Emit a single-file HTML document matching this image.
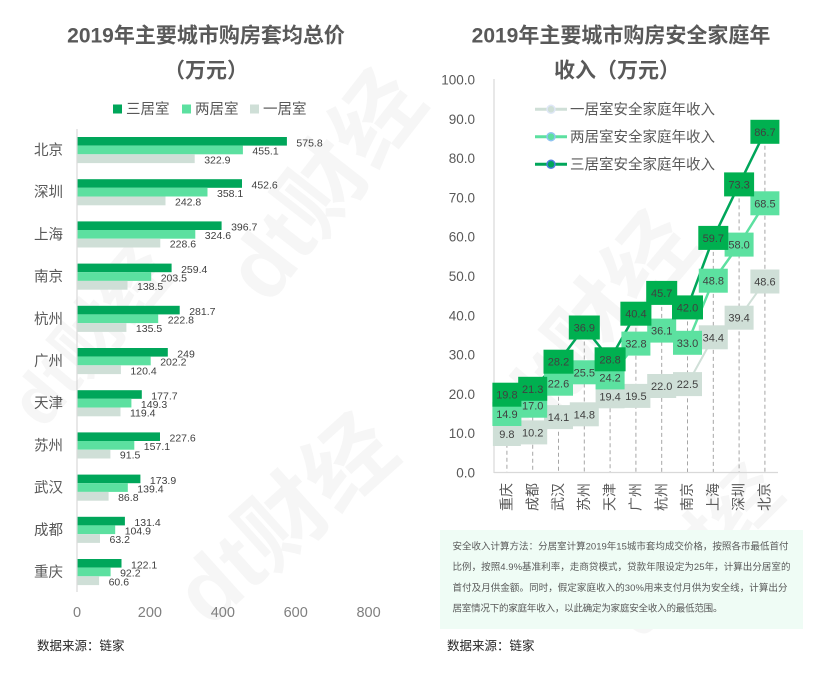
<!DOCTYPE html>
<html>
<head>
<meta charset="utf-8">
<style>
html,body{margin:0;padding:0;background:#fff;width:837px;height:679px;overflow:hidden;}
svg{display:block;font-family:"Liberation Sans","Noto Sans CJK SC",sans-serif;overflow:hidden;}
</style>
</head>
<body>
<svg width="837" height="679" viewBox="0 0 837 679" xmlns="http://www.w3.org/2000/svg">
<rect x="0" y="0" width="837" height="679" fill="#fff"/>

<!-- watermarks -->
<g fill="#000" fill-opacity="0.035" font-weight="bold">
  <text transform="translate(330,190) rotate(-52)" font-size="88" text-anchor="middle" dominant-baseline="middle">dt财经</text>
  <text transform="translate(290,525) rotate(-42)" font-size="88" text-anchor="middle" dominant-baseline="middle">dt财经</text>
  <text transform="translate(95,340) rotate(-50)" font-size="70" text-anchor="middle" dominant-baseline="middle">dt财经</text>
  <text transform="translate(600,330) rotate(-50)" font-size="88" text-anchor="middle" dominant-baseline="middle">dt财经</text>
  <text transform="translate(700,555) rotate(-45)" font-size="70" text-anchor="middle" dominant-baseline="middle">dt财经</text>
</g>

<!-- ============ LEFT CHART ============ -->
<g font-weight="bold" font-size="21" fill="#595959" text-anchor="middle">
  <text x="206" y="42.5">2019年主要城市购房套均总价</text>
  <text x="206" y="77.5">（万元）</text>
</g>

<rect x="113" y="104.5" width="9" height="9" fill="#00a65a"/>
<text x="126" y="114" font-size="14.5" fill="#595959">三居室</text>
<rect x="182" y="104.5" width="9" height="9" fill="#5ce0a0"/>
<text x="195" y="114" font-size="14.5" fill="#595959">两居室</text>
<rect x="250" y="104.5" width="9" height="9" fill="#cfdfd7"/>
<text x="263" y="114" font-size="14.5" fill="#595959">一居室</text>

<g>
  <rect x="77" y="137" width="209.9" height="8.6" fill="#00a65a"/>
  <rect x="77" y="145.6" width="165.9" height="8.7" fill="#5ce0a0"/>
  <rect x="77" y="154.3" width="117.7" height="8.8" fill="#cfdfd7"/>
  <rect x="77" y="179.2" width="165.0" height="8.6" fill="#00a65a"/>
  <rect x="77" y="187.8" width="130.5" height="8.7" fill="#5ce0a0"/>
  <rect x="77" y="196.5" width="88.5" height="8.8" fill="#cfdfd7"/>
  <rect x="77" y="221.4" width="144.6" height="8.6" fill="#00a65a"/>
  <rect x="77" y="230" width="118.3" height="8.7" fill="#5ce0a0"/>
  <rect x="77" y="238.7" width="83.3" height="8.8" fill="#cfdfd7"/>
  <rect x="77" y="263.6" width="94.6" height="8.6" fill="#00a65a"/>
  <rect x="77" y="272.2" width="74.2" height="8.7" fill="#5ce0a0"/>
  <rect x="77" y="280.9" width="50.5" height="8.8" fill="#cfdfd7"/>
  <rect x="77" y="305.8" width="102.7" height="8.6" fill="#00a65a"/>
  <rect x="77" y="314.4" width="81.2" height="8.7" fill="#5ce0a0"/>
  <rect x="77" y="323.1" width="49.4" height="8.8" fill="#cfdfd7"/>
  <rect x="77" y="348" width="90.8" height="8.6" fill="#00a65a"/>
  <rect x="77" y="356.6" width="73.7" height="8.7" fill="#5ce0a0"/>
  <rect x="77" y="365.3" width="43.9" height="8.8" fill="#cfdfd7"/>
  <rect x="77" y="390.2" width="64.8" height="8.6" fill="#00a65a"/>
  <rect x="77" y="398.8" width="54.4" height="8.7" fill="#5ce0a0"/>
  <rect x="77" y="407.5" width="43.5" height="8.8" fill="#cfdfd7"/>
  <rect x="77" y="432.4" width="83.0" height="8.6" fill="#00a65a"/>
  <rect x="77" y="441" width="57.3" height="8.7" fill="#5ce0a0"/>
  <rect x="77" y="449.7" width="33.4" height="8.8" fill="#cfdfd7"/>
  <rect x="77" y="474.6" width="63.4" height="8.6" fill="#00a65a"/>
  <rect x="77" y="483.2" width="50.8" height="8.7" fill="#5ce0a0"/>
  <rect x="77" y="491.9" width="31.6" height="8.8" fill="#cfdfd7"/>
  <rect x="77" y="516.8" width="47.9" height="8.6" fill="#00a65a"/>
  <rect x="77" y="525.4" width="38.2" height="8.7" fill="#5ce0a0"/>
  <rect x="77" y="534.1" width="23.0" height="8.8" fill="#cfdfd7"/>
  <rect x="77" y="559" width="44.5" height="8.6" fill="#00a65a"/>
  <rect x="77" y="567.6" width="33.6" height="8.7" fill="#5ce0a0"/>
  <rect x="77" y="576.3" width="22.1" height="8.8" fill="#cfdfd7"/>
</g>

<line x1="77" y1="129" x2="77" y2="592" stroke="#d9d9d9" stroke-width="1.2"/>

<g font-size="10.5" fill="#404040">
  <text x="296.4" y="146.3">575.8</text><text x="252.4" y="154.7">455.1</text><text x="204.2" y="163.3">322.9</text>
  <text x="251.5" y="188.5">452.6</text><text x="217" y="196.9">358.1</text><text x="175" y="205.5">242.8</text>
  <text x="231.1" y="230.7">396.7</text><text x="204.8" y="239.1">324.6</text><text x="169.8" y="247.7">228.6</text>
  <text x="181.1" y="272.9">259.4</text><text x="160.7" y="281.3">203.5</text><text x="137" y="289.9">138.5</text>
  <text x="189.2" y="315.1">281.7</text><text x="167.7" y="323.5">222.8</text><text x="135.9" y="332.1">135.5</text>
  <text x="177.3" y="357.3">249</text><text x="160.2" y="365.7">202.2</text><text x="130.4" y="374.3">120.4</text>
  <text x="151.3" y="399.5">177.7</text><text x="140.9" y="407.9">149.3</text><text x="130" y="416.5">119.4</text>
  <text x="169.5" y="441.7">227.6</text><text x="143.8" y="450.1">157.1</text><text x="119.9" y="458.7">91.5</text>
  <text x="149.9" y="483.9">173.9</text><text x="137.3" y="492.3">139.4</text><text x="118.1" y="500.9">86.8</text>
  <text x="134.4" y="526.1">131.4</text><text x="124.7" y="534.5">104.9</text><text x="109.5" y="543.1">63.2</text>
  <text x="131" y="568.3">122.1</text><text x="120.1" y="576.7">92.2</text><text x="108.6" y="585.3">60.6</text>
</g>

<g font-size="14.5" fill="#595959" text-anchor="end">
  <text x="63" y="155">北京</text>
  <text x="63" y="197.2">深圳</text>
  <text x="63" y="239.4">上海</text>
  <text x="63" y="281.6">南京</text>
  <text x="63" y="323.8">杭州</text>
  <text x="63" y="366">广州</text>
  <text x="63" y="408.2">天津</text>
  <text x="63" y="450.4">苏州</text>
  <text x="63" y="492.6">武汉</text>
  <text x="63" y="534.8">成都</text>
  <text x="63" y="577">重庆</text>
</g>

<g font-size="14.5" fill="#7f7f7f" text-anchor="middle">
  <text x="77" y="617">0</text>
  <text x="149.9" y="617">200</text>
  <text x="222.8" y="617">400</text>
  <text x="295.7" y="617">600</text>
  <text x="368.6" y="617">800</text>
</g>

<text x="37" y="650" font-size="12.5" fill="#262626">数据来源：链家</text>

<!-- ============ RIGHT CHART ============ -->
<g font-weight="bold" font-size="21" fill="#595959" text-anchor="middle">
  <text x="621" y="42.5">2019年主要城市购房安全家庭年</text>
  <text x="617" y="77.5">收入（万元）</text>
</g>

<g font-size="13.5" fill="#595959" text-anchor="end">
  <text x="475" y="477.5">0.0</text>
  <text x="475" y="438.2">10.0</text>
  <text x="475" y="398.9">20.0</text>
  <text x="475" y="359.6">30.0</text>
  <text x="475" y="320.3">40.0</text>
  <text x="475" y="281">50.0</text>
  <text x="475" y="241.7">60.0</text>
  <text x="475" y="202.4">70.0</text>
  <text x="475" y="163.1">80.0</text>
  <text x="475" y="123.8">90.0</text>
  <text x="475" y="84.5">100.0</text>
</g>

<g stroke="#a6a6a6" stroke-width="1" stroke-dasharray="4,3">
  <line x1="506.9" y1="394.7" x2="506.9" y2="472.5"/>
  <line x1="532.7" y1="388.8" x2="532.7" y2="472.5"/>
  <line x1="558.5" y1="361.7" x2="558.5" y2="472.5"/>
  <line x1="584.3" y1="327.5" x2="584.3" y2="472.5"/>
  <line x1="610.1" y1="359.3" x2="610.1" y2="472.5"/>
  <line x1="635.9" y1="313.7" x2="635.9" y2="472.5"/>
  <line x1="661.7" y1="292.9" x2="661.7" y2="472.5"/>
  <line x1="687.5" y1="307.4" x2="687.5" y2="472.5"/>
  <line x1="713.3" y1="237.9" x2="713.3" y2="472.5"/>
  <line x1="739.1" y1="184.4" x2="739.1" y2="472.5"/>
  <line x1="764.9" y1="131.8" x2="764.9" y2="472.5"/>
</g>

<line x1="494" y1="79" x2="494" y2="473" stroke="#d9d9d9" stroke-width="1.2"/>
<line x1="494" y1="472.5" x2="778" y2="472.5" stroke="#d9d9d9" stroke-width="1.2"/>

<g font-size="14" fill="#595959" text-anchor="end">
  <text transform="translate(511.5,483) rotate(-90)">重庆</text>
  <text transform="translate(537.3,483) rotate(-90)">成都</text>
  <text transform="translate(563.1,483) rotate(-90)">武汉</text>
  <text transform="translate(588.9,483) rotate(-90)">苏州</text>
  <text transform="translate(614.7,483) rotate(-90)">天津</text>
  <text transform="translate(640.5,483) rotate(-90)">广州</text>
  <text transform="translate(666.3,483) rotate(-90)">杭州</text>
  <text transform="translate(692.1,483) rotate(-90)">南京</text>
  <text transform="translate(717.9,483) rotate(-90)">上海</text>
  <text transform="translate(743.7,483) rotate(-90)">深圳</text>
  <text transform="translate(769.5,483) rotate(-90)">北京</text>
</g>

<polyline fill="none" stroke="#cfdfd7" stroke-width="2"
  points="506.9,434.0 532.7,432.4 558.5,417.1 584.3,414.3 610.1,396.3 635.9,395.9 661.7,386.0 687.5,384.1 713.3,337.3 739.1,317.7 764.9,281.5"/>
<polyline fill="none" stroke="#5ce0a0" stroke-width="2.5"
  points="506.9,414.0 532.7,405.7 558.5,383.7 584.3,372.3 610.1,377.4 635.9,343.6 661.7,330.6 687.5,342.8 713.3,280.7 739.1,244.6 764.9,203.3"/>
<polyline fill="none" stroke="#00a65a" stroke-width="2.5"
  points="506.9,394.7 532.7,388.8 558.5,361.7 584.3,327.5 610.1,359.3 635.9,313.7 661.7,292.9 687.5,307.4 713.3,237.9 739.1,184.4 764.9,131.8"/>

<line x1="535" y1="109.3" x2="567" y2="109.3" stroke="#cfdfd7" stroke-width="3"/>
<circle cx="551" cy="109.3" r="4" fill="#cfdfd7" stroke="#dfe7f7" stroke-width="1.5"/>
<text x="570" y="114.5" font-size="14.5" fill="#595959">一居室安全家庭年收入</text>
<line x1="535" y1="136.7" x2="567" y2="136.7" stroke="#5ce0a0" stroke-width="3"/>
<circle cx="551" cy="136.7" r="4" fill="#5ce0a0" stroke="#8fc4f0" stroke-width="1.5"/>
<text x="570" y="141.9" font-size="14.5" fill="#595959">两居室安全家庭年收入</text>
<line x1="535" y1="164.3" x2="567" y2="164.3" stroke="#00a65a" stroke-width="3"/>
<circle cx="551" cy="164.3" r="4" fill="#00a65a" stroke="#4d7fe0" stroke-width="1.5"/>
<text x="570" y="169.5" font-size="14.5" fill="#595959">三居室安全家庭年收入</text>

<g fill="#cfdfd7">
  <rect x="492.9" y="422" width="28" height="24"/>
  <rect x="518.2" y="420.4" width="29" height="24"/>
  <rect x="544" y="405.1" width="29" height="24"/>
  <rect x="569.8" y="402.3" width="29" height="24"/>
  <rect x="595.6" y="384.3" width="29" height="24"/>
  <rect x="621.4" y="383.9" width="29" height="24"/>
  <rect x="647.2" y="374" width="29" height="24"/>
  <rect x="673" y="372.1" width="29" height="24"/>
  <rect x="698.8" y="325.3" width="29" height="24"/>
  <rect x="724.6" y="305.7" width="29" height="24"/>
  <rect x="750.4" y="269.5" width="29" height="24"/>
</g>
<g font-size="11" fill="#404040" text-anchor="middle">
  <text x="506.9" y="438">9.8</text>
  <text x="532.7" y="436.4">10.2</text>
  <text x="558.5" y="421.1">14.1</text>
  <text x="584.3" y="418.3">14.8</text>
  <text x="610.1" y="400.3">19.4</text>
  <text x="635.9" y="399.9">19.5</text>
  <text x="661.7" y="390">22.0</text>
  <text x="687.5" y="388.1">22.5</text>
  <text x="713.3" y="341.3">34.4</text>
  <text x="739.1" y="321.7">39.4</text>
  <text x="764.9" y="285.5">48.6</text>
</g>

<g fill="#5ce1a0">
  <rect x="492.4" y="402" width="29" height="24"/>
  <rect x="518.2" y="393.7" width="29" height="24"/>
  <rect x="544" y="371.7" width="29" height="24"/>
  <rect x="569.8" y="360.3" width="29" height="24"/>
  <rect x="595.6" y="365.4" width="29" height="24"/>
  <rect x="621.4" y="331.6" width="29" height="24"/>
  <rect x="647.2" y="318.6" width="29" height="24"/>
  <rect x="673" y="330.8" width="29" height="24"/>
  <rect x="698.8" y="268.7" width="29" height="24"/>
  <rect x="724.6" y="232.6" width="29" height="24"/>
  <rect x="750.4" y="191.3" width="29" height="24"/>
</g>
<g font-size="11" fill="#404040" text-anchor="middle">
  <text x="506.9" y="418">14.9</text>
  <text x="532.7" y="409.7">17.0</text>
  <text x="558.5" y="387.7">22.6</text>
  <text x="584.3" y="376.3">25.5</text>
  <text x="610.1" y="381.4">24.2</text>
  <text x="635.9" y="347.6">32.8</text>
  <text x="661.7" y="334.6">36.1</text>
  <text x="687.5" y="346.8">33.0</text>
  <text x="713.3" y="284.7">48.8</text>
  <text x="739.1" y="248.6">58.0</text>
  <text x="764.9" y="207.3">68.5</text>
</g>

<g fill="#00b050">
  <rect x="492.4" y="382.7" width="29" height="24"/>
  <rect x="518.2" y="376.8" width="29" height="24"/>
  <rect x="543.5" y="349.7" width="30" height="24"/>
  <rect x="568.8" y="315.5" width="31" height="24"/>
  <rect x="594.6" y="347.3" width="31" height="24"/>
  <rect x="620.4" y="301.7" width="31" height="24"/>
  <rect x="646.2" y="280.9" width="31" height="24"/>
  <rect x="672" y="295.4" width="31" height="24"/>
  <rect x="698.3" y="225.9" width="30" height="24"/>
  <rect x="724.1" y="172.4" width="30" height="24"/>
  <rect x="750.4" y="119.8" width="29" height="24"/>
</g>
<g font-size="11" fill="#404040" text-anchor="middle">
  <text x="506.9" y="398.7">19.8</text>
  <text x="532.7" y="392.8">21.3</text>
  <text x="558.5" y="365.7">28.2</text>
  <text x="584.3" y="331.5">36.9</text>
  <text x="610.1" y="363.3">28.8</text>
  <text x="635.9" y="317.7">40.4</text>
  <text x="661.7" y="296.9">45.7</text>
  <text x="687.5" y="311.4">42.0</text>
  <text x="713.3" y="241.9">59.7</text>
  <text x="739.1" y="188.4">73.3</text>
  <text x="764.9" y="135.8">86.7</text>
</g>

<rect x="440" y="530" width="363" height="99" fill="#effcf5"/>
<g font-size="9.5" fill="#595959">
  <text x="452.5" y="549.5" textLength="336" lengthAdjust="spacing">安全收入计算方法：分居室计算2019年15城市套均成交价格，按照各市最低首付</text>
  <text x="452.5" y="570.2" textLength="338" lengthAdjust="spacing">比例，按照4.9%基准利率，走商贷模式，贷款年限设定为25年，计算出分居室的</text>
  <text x="452.5" y="590.9" textLength="335" lengthAdjust="spacing">首付及月供金额。同时，假定家庭收入的30%用来支付月供为安全线，计算出分</text>
  <text x="452.5" y="611.6" textLength="270" lengthAdjust="spacing">居室情况下的家庭年收入，以此确定为家庭安全收入的最低范围。</text>
</g>

<text x="447" y="650" font-size="12.5" fill="#262626">数据来源：链家</text>
</svg>
</body>
</html>
